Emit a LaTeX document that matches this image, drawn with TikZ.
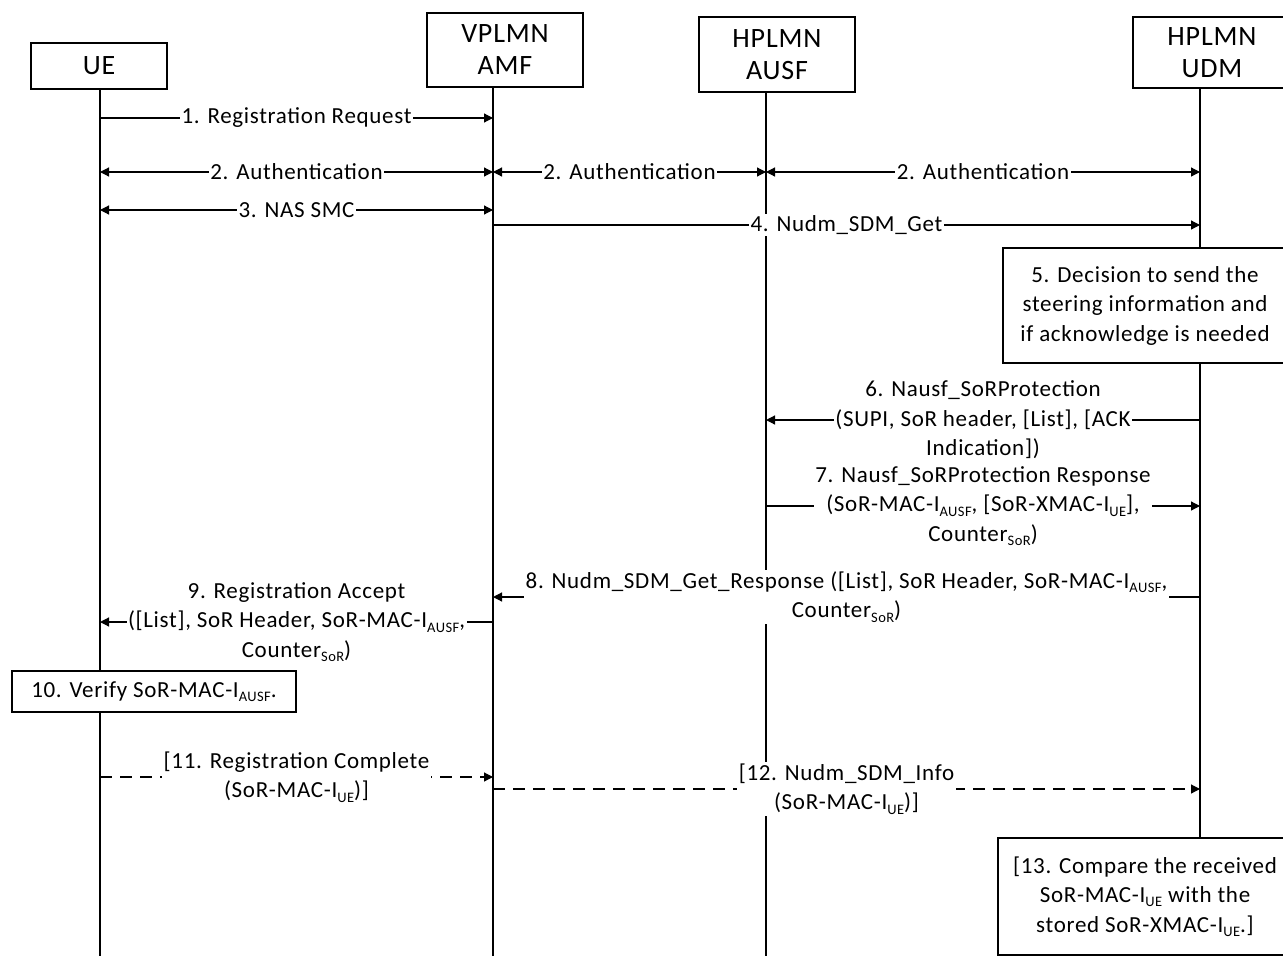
\documentclass[tikz,border=0pt]{standalone}
\usepackage{fontspec}
\setmainfont{Carlito}[LetterSpace=3]
\usetikzlibrary{arrows.meta}
\newcommand\sbs[1]{\raisebox{-0.4ex}{\fontsize{14.5}{15}\selectfont #1}}
\begin{document}
\begin{tikzpicture}[x=1pt,y=-1pt,
  hdr/.style={draw, line width=1.2pt, fill=white, align=center, inner sep=0pt, font=\fontsize{28}{32}\selectfont},
  actbox/.style={draw, line width=1.2pt, fill=white, align=center, inner sep=0pt, font=\fontsize{23}{29.5}\selectfont},
  life/.style={line width=1.2pt},
  msg/.style={line width=1.2pt, -{Triangle[length=9pt,width=9pt]}},
  bimsg/.style={line width=1.2pt, {Triangle[length=9pt,width=9pt]}-{Triangle[length=9pt,width=9pt]}},
  dmsg/.style={msg, dash pattern=on 12pt off 8pt},
  lbl/.style={fill=white, inner sep=1.5pt, align=center, font=\fontsize{23}{29.5}\selectfont},
]
\path[use as bounding box, fill=white] (0,0) rectangle (1283,956);

% lifeline x positions (bottom ends)
\coordinate (xUE) at (100,956);
\coordinate (xAMF) at (493,956);
\coordinate (xAUSF) at (766,956);
\coordinate (xUDM) at (1200,956);

% header boxes
\node[hdr, minimum width=136pt, minimum height=46pt] (ue) at (99,66) {UE};
\node[hdr, minimum width=156pt, minimum height=74pt] (amf) at (505,50) {VPLMN\\AMF};
\node[hdr, minimum width=156pt, minimum height=75pt] (ausf) at (777,54.5) {HPLMN\\AUSF};
\node[hdr, minimum width=158pt, minimum height=71pt] (udm) at (1212,52.5) {HPLMN\\UDM};

\coordinate (c13) at (1145,896.5);
\coordinate (udmEnd) at (1200,838);

% lifelines
\draw[life] (ue.south -| xUE) -- (xUE);
\draw[life] (amf.south -| xAMF) -- (xAMF);
\draw[life] (ausf.south -| xAUSF) -- (xAUSF);
\draw[life] (udm.south -| xUDM) -- (udmEnd);

% action boxes
\node[actbox, minimum width=284pt, minimum height=115pt] (s5) at (1145,305.5) {5. Decision to send the\\steering information and\\if acknowledge is needed};
\node[actbox, minimum width=284pt, minimum height=41pt] (s10) at (154,691.5) {10. Verify SoR-MAC-I\sbs{AUSF}.};
\node[actbox, minimum width=294pt, minimum height=117pt] (s13) at (c13) {[13. Compare the received\\SoR-MAC-I\sbs{UE} with the\\stored SoR-XMAC-I\sbs{UE}.]};

% rows
\coordinate (r1) at (0,118);
\coordinate (r2) at (0,172);
\coordinate (r3) at (0,210);
\coordinate (r4) at (0,225);
\coordinate (r6) at (0,420);
\coordinate (r7) at (0,506);
\coordinate (r8) at (0,597);
\coordinate (r9) at (0,622);
\coordinate (r11) at (0,777);
\coordinate (r12) at (0,789);

% messages
\draw[msg] (xUE |- r1) -- node[lbl]{1. Registration Request} (xAMF |- r1);
\draw[bimsg] (xUE |- r2) -- node[lbl]{2. Authentication} (xAMF |- r2);
\draw[bimsg] (xAMF |- r2) -- node[lbl]{2. Authentication} (xAUSF |- r2);
\draw[bimsg] (xAUSF |- r2) -- node[lbl]{2. Authentication} (xUDM |- r2);
\draw[bimsg] (xUE |- r3) -- node[lbl]{3. NAS SMC} (xAMF |- r3);
\draw[msg] (xAMF |- r4) -- node[lbl]{4. Nudm\_SDM\_Get} (xUDM |- r4);
\draw[msg] (xUDM |- r6) -- node[lbl]{6. Nausf\_SoRProtection\\(SUPI, SoR header, [List], [ACK\\Indication])} (xAUSF |- r6);
\draw[msg] (xAUSF |- r7) -- node[lbl]{7. Nausf\_SoRProtection Response\\(SoR-MAC-I\sbs{AUSF}, [SoR-XMAC-I\sbs{UE}],\\Counter\sbs{SoR})} (xUDM |- r7);
\draw[msg] (xUDM |- r8) -- node[lbl]{8. Nudm\_SDM\_Get\_Response ([List], SoR Header, SoR-MAC-I\sbs{AUSF},\\Counter\sbs{SoR})} (xAMF |- r8);
\draw[msg] (xAMF |- r9) -- node[lbl]{9. Registration Accept\\([List], SoR Header, SoR-MAC-I\sbs{AUSF},\\Counter\sbs{SoR})} (xUE |- r9);
\draw[dmsg] (xUE |- r11) -- node[lbl]{[11. Registration Complete\\(SoR-MAC-I\sbs{UE})]} (xAMF |- r11);
\draw[dmsg] (xAMF |- r12) -- node[lbl]{[12. Nudm\_SDM\_Info\\(SoR-MAC-I\sbs{UE})]} (xUDM |- r12);
\end{tikzpicture}
\end{document}
